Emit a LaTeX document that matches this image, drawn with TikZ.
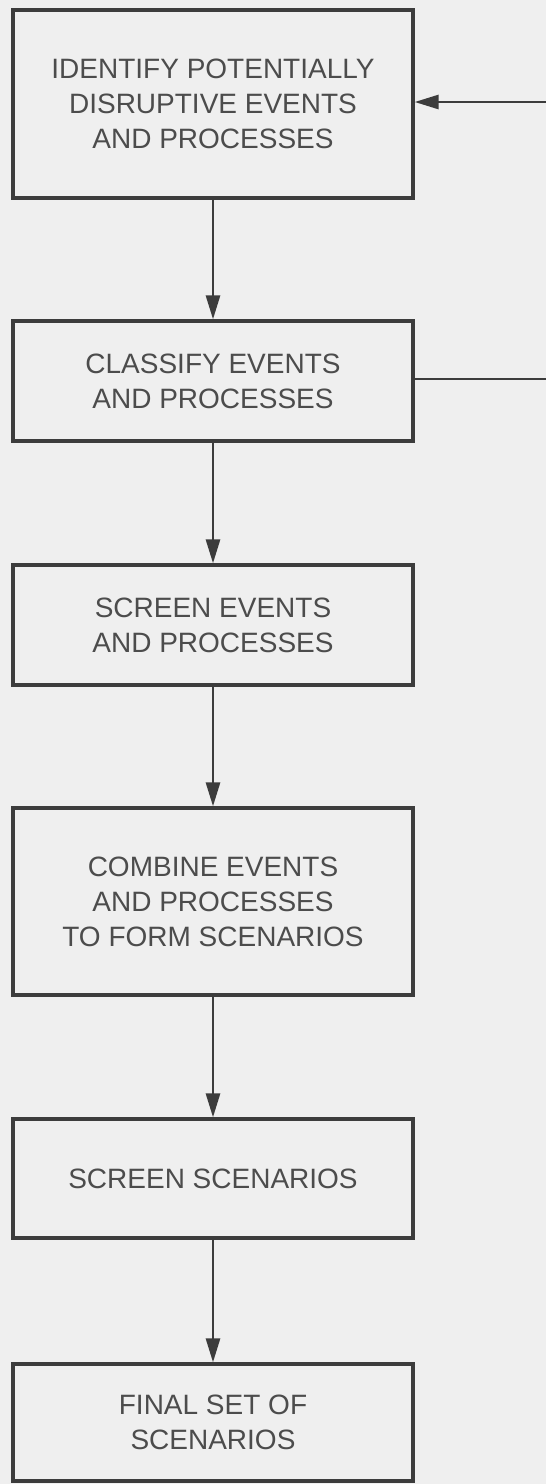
\documentclass[tikz,border=0pt]{standalone}
\usepackage{fontspec}
\setmainfont{Liberation Sans}
\usetikzlibrary{arrows.meta}
\definecolor{paper}{HTML}{EFEFEF}
\definecolor{ink}{HTML}{3C3C3C}
\definecolor{txt}{HTML}{4C4C4C}
\begin{document}
\begin{tikzpicture}[x=1pt,y=-1pt,
  stepbox/.style={draw=ink, line width=3.3pt, minimum width=400pt, align=center,
    text=txt, font=\fontsize{28}{35}\selectfont, inner sep=0pt},
  flow/.style={draw=ink, line width=2.8pt,
    -{Triangle[length=24pt,width=14pt]}}]
  \useasboundingbox (0,0) rectangle (546,1484);
  \fill[paper] (0,0) rectangle (546,1484);
  \begin{scope}
  \clip (0,0) rectangle (546,1484);
  \node[stepbox, minimum height=188pt] (b1) at (213,104)
    {IDENTIFY POTENTIALLY\\DISRUPTIVE EVENTS\\AND PROCESSES};
  \node[stepbox, minimum height=120pt] (b2) at (213,381)
    {CLASSIFY EVENTS\\AND PROCESSES};
  \node[stepbox, minimum height=120pt] (b3) at (213,625)
    {SCREEN EVENTS\\AND PROCESSES};
  \node[stepbox, minimum height=187pt] (b4) at (213,901.5)
    {COMBINE EVENTS\\AND PROCESSES\\TO FORM SCENARIOS};
  \node[stepbox, minimum height=119pt] (b5) at (213,1178.5)
    {SCREEN SCENARIOS};
  \node[stepbox, minimum height=117pt] (b6) at (213,1422.5)
    {FINAL SET OF\\SCENARIOS};
  \draw[flow] (b1) -- (b2);
  \draw[flow] (b2) -- (b3);
  \draw[flow] (b3) -- (b4);
  \draw[flow] (b4) -- (b5);
  \draw[flow] (b5) -- (b6);
  % feedback from classification back to identification
  \coordinate (fbout) at (550,379);
  \coordinate (fbin) at (550,102);
  \draw[draw=ink, line width=2.8pt] (b2.east |- fbout) -- (fbout);
  \draw[flow] (fbin) -- (fbin -| b1.east);
  \end{scope}
\end{tikzpicture}
\end{document}
